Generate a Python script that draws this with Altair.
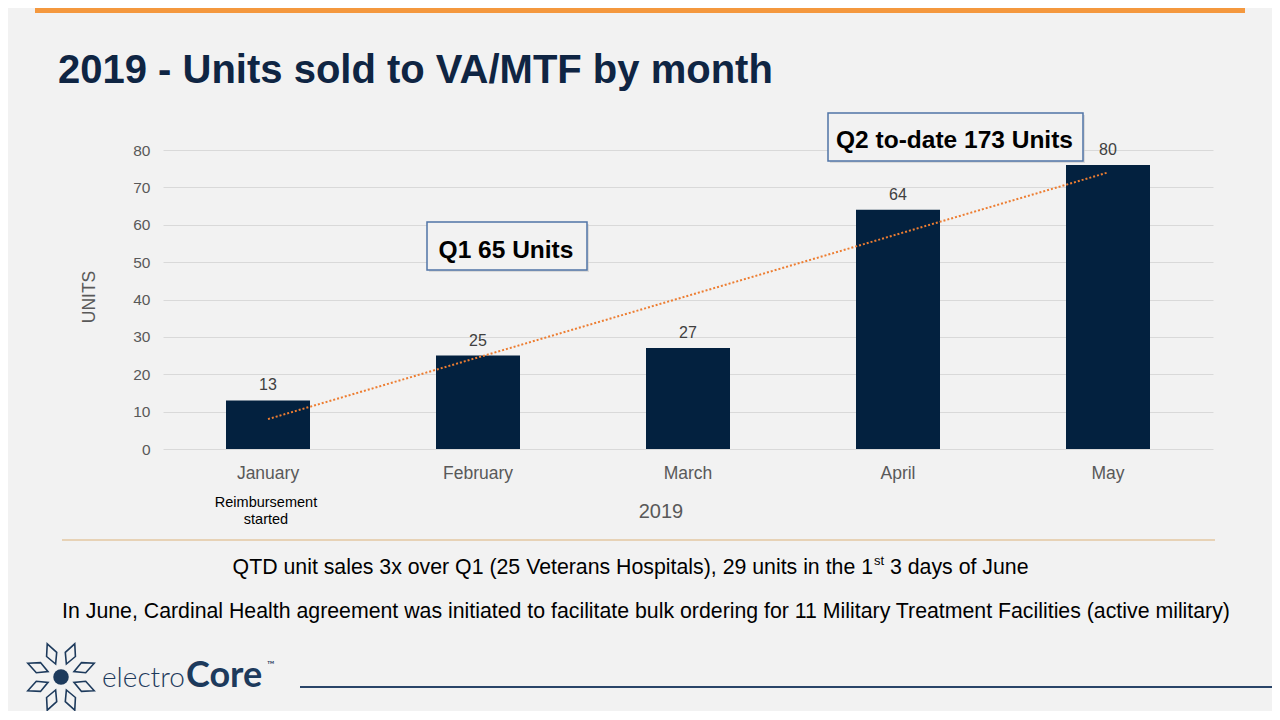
import json
import math
import altair as alt
import pandas as pd

# ---------------- data ----------------
months = ["January", "February", "March", "April", "May"]
units = [13, 25, 27, 64, 76]
unit_labels = ["13", "25", "27", "64", "80"]
month_index = [1, 2, 3, 4, 5]
y_ticks = [0, 10, 20, 30, 40, 50, 60, 70, 80]

title_text = "2019 - Units sold to VA/MTF by month"
q1_text = "Q1 65 Units"
q2_text = "Q2 to-date 173 Units"
note_lines = ["Reimbursement", "started"]
x_title = "2019"
y_title = "UNITS"
line1_a = "QTD unit sales 3x over Q1 (25 Veterans Hospitals), 29 units in the 1"
line1_sup = "st"
line1_b = "3 days of June"
line2 = ("In June, Cardinal Health agreement was initiated to facilitate bulk "
         "ordering for 11 Military Treatment Facilities (active military)")
logo_a = "electro"
logo_b = "Core"
logo_tm = "\u2122"
kite_angles = [22.5, 67.5, 112.5, 157.5, 202.5, 247.5, 292.5, 337.5]

df = pd.DataFrame({"month": months, "units": units, "label": unit_labels, "idx": month_index})

# ---------------- layout helpers ----------------
PX0, PY0 = 163, 150          # page position of plot origin
W, H = 1050, 299


def X(px):
    return px - PX0


def Y(py):
    return py - PY0


FONT = "Liberation Sans, Arial, Helvetica, sans-serif"
NAVY = "#03213f"
TITLE_NAVY = "#0f2543"
GREY = "#595959"
LOGO = "#1d3a5c"

base = alt.Chart(df)

xenc = alt.X(
    "month:N", sort=months,
    scale=alt.Scale(paddingInner=0.6, paddingOuter=0.3),
    axis=alt.Axis(title=None, labelAngle=0, labelFontSize=17.5, labelColor=GREY,
                  labelPadding=15, ticks=False, domain=False, labelFont=FONT, grid=False),
)
yenc = alt.Y(
    "units:Q",
    scale=alt.Scale(domain=[0, 80], nice=False),
    axis=alt.Axis(title=None, values=y_ticks, labelFontSize=15.5, labelColor=GREY,
                  labelPadding=13, ticks=False, domain=False, gridColor="#d9d9d9",
                  gridWidth=1.2, labelFont=FONT, labelOverlap=False),
)

bars = base.mark_bar(color=NAVY).encode(x=xenc, y=yenc)

labels = base.mark_text(dy=-10, baseline="alphabetic", fontSize=16, color="#404040",
                        font=FONT).encode(x=xenc, y=yenc, text="label:N")

trend = (
    base.transform_regression("idx", "units")
    .transform_calculate(month=f"{json.dumps(months)}[round(datum.idx) - 1]")
    .mark_line(color="#ED7D31", strokeDash=[2, 2], strokeWidth=2)
    .encode(x=xenc, y=yenc)
)

ann = alt.Chart(pd.DataFrame({"k": [0]}))


def text(t, x, y, size, color="black", weight="normal", align="left",
         baseline="alphabetic", font=FONT, angle=0):
    kw = dict(text=t, fontSize=size, color=color, fontWeight=weight, align=align,
              baseline=baseline, font=font)
    if angle:
        kw["angle"] = angle
    return ann.mark_text(**kw).encode(x=alt.value(X(x)), y=alt.value(Y(y)))


def rect(x1, y1, x2, y2, fill, stroke=None, sw=0, opacity=1):
    kw = dict(fill=fill, opacity=opacity)
    if stroke:
        kw.update(stroke=stroke, strokeWidth=sw)
    return ann.mark_rect(**kw).encode(
        x=alt.value(X(x1)), x2=alt.value(X(x2)),
        y=alt.value(Y(y1)), y2=alt.value(Y(y2)))


def rule(x1, y1, x2, y2, color, sw):
    return ann.mark_rule(color=color, strokeWidth=sw).encode(
        x=alt.value(X(x1)), x2=alt.value(X(x2)),
        y=alt.value(Y(y1)), y2=alt.value(Y(y2)))


layers = [bars, trend, labels]

# orange top band
layers.append(rect(35, 0, 1245, 13, "#f4983e"))
# title
layers.append(text(title_text, 58, 83, 40, color=TITLE_NAVY, weight="bold"))
# axis titles
layers.append(text(y_title, 90, 297, 17.5, color=GREY, align="center",
                   baseline="middle", angle=270))
layers.append(text(x_title, 661, 518, 20, color=GREY, align="center"))
# note under January
layers.append(text(note_lines[0], 266, 507, 14.5, align="center"))
layers.append(text(note_lines[1], 266, 524, 14.5, align="center"))

# annotation boxes
for (x1, y1, x2, y2, t, bl) in [(427, 222, 587, 270, q1_text, 258),
                                (828, 113, 1083, 161, q2_text, 148)]:
    layers.append(rect(x1 + 2, y1 + 2, x2 + 2, y2 + 2, "#c9c9c9", opacity=0.6))
    layers.append(rect(x1, y1, x2, y2, "#f2f2f2", stroke="#5074a6", sw=1.5))
    layers.append(text(t, (x1 + x2) / 2 - 1, bl, 24.5, weight="bold", align="center"))

# separator
layers.append(rule(62, 540, 1215, 540, "#e3c7a2", 1.5))
# bottom text lines
layers.append(text(line1_a, 873, 574, 21.3, align="right"))
layers.append(text(line1_sup, 874, 565, 13, align="left"))
layers.append(text(line1_b, 890, 574, 21.3, align="left"))
layers.append(text(line2, 646, 618, 21.3, align="center"))

# logo
cx, cy = 61, 677
layers.append(ann.mark_point(shape="circle", filled=True, color=LOGO, size=240, opacity=1)
              .encode(x=alt.value(X(cx)), y=alt.value(Y(cy))))
kite = "M0,-1 L0.5,0.05 L0,1 L-0.5,0.05 Z"
for a in kite_angles:
    r = 25
    kx = cx + r * math.cos(math.radians(a))
    ky = cy + r * math.sin(math.radians(a))
    layers.append(ann.mark_point(shape=kite, filled=False, stroke=LOGO, strokeWidth=1.6,
                                 size=480, angle=(a + 90) % 360, opacity=1)
                  .encode(x=alt.value(X(kx)), y=alt.value(Y(ky))))
LF = "Lato, Open Sans, sans-serif"
layers.append(text(logo_a, 102, 687, 28, color=LOGO, weight=300, font=LF))
layers.append(text(logo_b, 186, 687, 36, color=LOGO, weight="bold", font=LF))
layers.append(text(logo_tm, 267, 668, 10, color=LOGO, font=LF))
# bottom navy rule
layers.append(rule(300, 687, 1272, 687, "#2a4569", 2))

chart = (
    alt.layer(*layers)
    .properties(width=W, height=H,
                autosize=alt.AutoSizeParams(type="none"),
                padding={"left": PX0 - 8, "top": PY0 - 8,
                         "right": 1264 - (PX0 - 8) - W, "bottom": 703 - (PY0 - 8) - H},
                background="#f2f2f2")
    .configure_view(stroke=None)
)

chart.save("out.html", embed_options={"renderer": "svg", "actions": False})
